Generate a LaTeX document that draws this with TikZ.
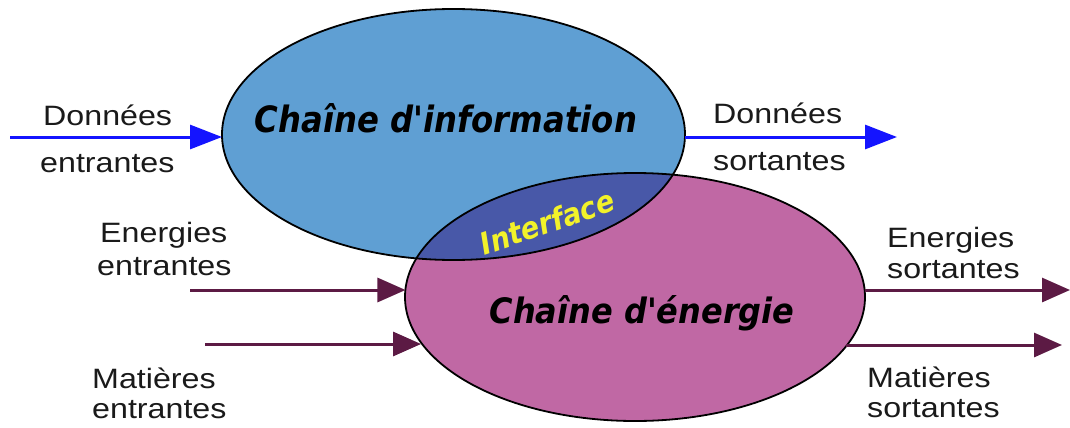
\documentclass[tikz,border=0pt]{standalone}
\usepackage{fontspec}
\setmainfont{Liberation Sans}
\newfontfamily\chainfont{DejaVu Sans}[BoldItalicFont={* Bold Oblique}]
\usetikzlibrary{shapes.geometric,arrows.meta}

\definecolor{infofill}{HTML}{5F9FD3}
\definecolor{energyfill}{HTML}{C068A4}
\definecolor{interfill}{HTML}{4858A8}
\definecolor{flowblue}{HTML}{1414FF}
\definecolor{flowplum}{HTML}{5C1A44}
\definecolor{labeltext}{HTML}{1A1A1A}
\definecolor{interyellow}{HTML}{F2F22A}

\tikzset{
  lbl/.style={font=\fontsize{28}{32}\selectfont, text=labeltext, xscale=1.15,
              inner sep=0, anchor=base west},
  chainnode/.style={ellipse, inner sep=0, outer sep=0},
  chaintext/.style={inner sep=0, anchor=base},
  blueflow/.style={draw=flowblue, line width=3pt,
                   -{Triangle[length=32pt,width=24pt,fill=flowblue]}},
  plumflow/.style={draw=flowplum, line width=3pt,
                   -{Triangle[length=28pt,width=24pt,fill=flowplum]}},
  outline/.style={draw=black, line width=1.8pt}
}

\begin{document}
\begin{tikzpicture}[x=1pt,y=-1pt]
\useasboundingbox (0,0) rectangle (1070,428);
\fill[white] (0,0) rectangle (1070,428);

% the two chains
\node[chainnode, fill=infofill, minimum width=463pt, minimum height=251pt]
  (info) at (453.5,134.5) {};
\node[chainnode, fill=energyfill, minimum width=460pt, minimum height=248pt]
  (energy) at (635,297) {};

% shared zone of both chains
\begin{scope}
  \clip (info.center) ellipse [x radius=231.5pt, y radius=125.5pt];
  \fill[interfill] (energy.center) ellipse [x radius=230pt, y radius=124pt];
\end{scope}
\draw[outline] (info.center) ellipse [x radius=231.5pt, y radius=125.5pt];
\draw[outline] (energy.center) ellipse [x radius=230pt, y radius=124pt];

% chain titles
\node[chaintext] (tinfo) at (446,132)
  {\resizebox{382pt}{29pt}{\chainfont\bfseries\itshape Chaîne d\textquotesingle information}};
\node[chaintext] (tenergy) at (642,323)
  {\resizebox{305pt}{28pt}{\chainfont\bfseries\itshape Chaîne d\textquotesingle énergie}};
\node[inner sep=0, rotate=19, text=interyellow] (tinter) at (547,222)
  {\resizebox{140pt}{23pt}{\chainfont\bfseries\itshape Interface}};

% data flows
\coordinate (din) at (10,137);
\coordinate (dout) at (897,137);
\draw[blueflow] (din) -- (din -| info.west);
\draw[blueflow] (info.east |- dout) -- (dout);

% energy and matter flows
\coordinate (ein) at (190,290);
\coordinate (min) at (205,344);
\coordinate (eout) at (1070,290);
\coordinate (mout) at (1062,345);
\draw[plumflow] (ein) -- (ein -| energy.178);
\draw[plumflow] (min) -- (min -| energy.192);
\draw[plumflow] (eout -| energy.2) -- (eout);
\draw[plumflow] (mout -| energy.347) -- (mout);

% flow labels
\node[lbl] (l1a) at (43,125) {Données};
\node[lbl] (l1b) at (40,172) {entrantes};
\node[lbl] (r1a) at (713,123) {Données};
\node[lbl] (r1b) at (713,170) {sortantes};
\node[lbl] (l2a) at (100,242) {Energies};
\node[lbl] (l2b) at (97,275) {entrantes};
\node[lbl] (l3a) at (92,388) {Matières};
\node[lbl] (l3b) at (92,418) {entrantes};
\node[lbl] (r2a) at (887,247) {Energies};
\node[lbl] (r2b) at (887,278) {sortantes};
\node[lbl] (r3a) at (867,387) {Matières};
\node[lbl] (r3b) at (867,417) {sortantes};
\end{tikzpicture}
\end{document}
